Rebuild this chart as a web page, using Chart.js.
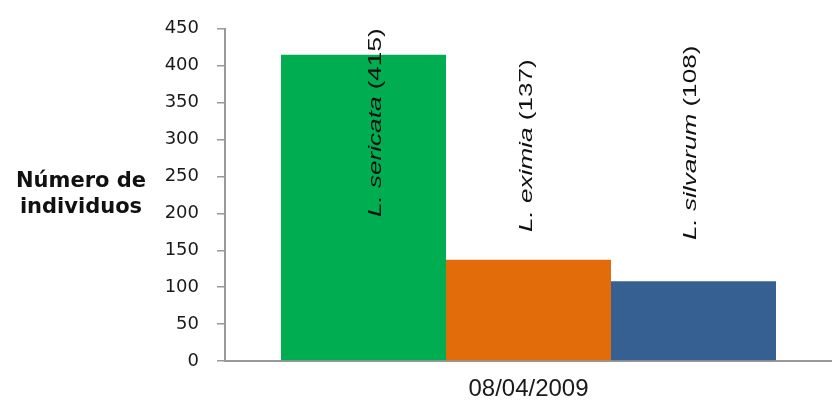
<!DOCTYPE html>
<html>
<head>
<meta charset="utf-8">
<script src="https://cdn.jsdelivr.net/npm/chart.js@4/dist/chart.umd.min.js"></script>
<style>
  html, body { margin: 0; padding: 0; background: #fff; }
  #wrap { width: 832px; height: 401px; }
</style>
</head>
<body>
<div id="wrap"><canvas id="bar-chart"></canvas></div>
<script>
const categories = ["08/04/2009"];
const species = ["sericata", "eximia", "silvarum"];
const counts = [415, 137, 108];
const barColors = ["#00AD50", "#E36C0A", "#366092"];
const yMax = 450;
const yStep = 50;
const yTitle = ["Número de", "individuos"];

// label placement next to each bar (pixels)
const labelShiftX = [18, 3, 2];
const labelBottomY = [217, 232, 240];

const datasets = species.map((name, i) => {
  return {
    label: "L. " + name,
    data: [counts[i]],
    backgroundColor: barColors[i],
    borderWidth: 0
  };
});

const yTitlePlugin = {
  id: "yTitle",
  afterDraw(chart) {
    const ctx = chart.ctx;
    ctx.save();
    ctx.font = "bold 21px 'DejaVu Sans'";
    ctx.fillStyle = "#111";
    ctx.textAlign = "center";
    ctx.textBaseline = "middle";
    ctx.fillText(yTitle[0], 81, 182);
    ctx.fillText(yTitle[1], 81, 208);
    ctx.restore();
  }
};

const barLabelPlugin = {
  id: "barLabels",
  afterDatasetsDraw(chart) {
    const ctx = chart.ctx;
    chart.data.datasets.forEach((ds, i) => {
      const bar = chart.getDatasetMeta(i).data[0];
      ctx.save();
      ctx.translate(bar.x + labelShiftX[i], labelBottomY[i]);
      ctx.rotate(-Math.PI / 2);
      ctx.scale(1.45, 1);
      ctx.fillStyle = "#111";
      ctx.textAlign = "left";
      ctx.textBaseline = "alphabetic";
      let x = 0;
      ctx.font = "italic 18px 'Liberation Sans'";
      const italicPart = "L. " + species[i];
      ctx.fillText(italicPart, x, 0);
      x += ctx.measureText(italicPart).width;
      ctx.font = "18px 'Liberation Sans'";
      ctx.fillText(" (" + counts[i] + ")", x, 0);
      ctx.restore();
    });
  }
};

new Chart(document.getElementById("bar-chart"), {
  type: "bar",
  data: {
    labels: categories,
    datasets: datasets
  },
  options: {
    responsive: true,
    maintainAspectRatio: false,
    animation: false,
    devicePixelRatio: 1,
    layout: { padding: { top: 28, left: 0, right: 0, bottom: 0 } },
    plugins: {
      legend: { display: false },
      tooltip: { enabled: false }
    },
    datasets: {
      bar: { categoryPercentage: 0.8155, barPercentage: 1 }
    },
    scales: {
      x: {
        afterFit: scale => { scale.height = 40; },
        grid: { display: false },
        border: { display: true, color: "#999", width: 2 },
        ticks: {
          color: "#1a1a1a",
          padding: 6,
          font: { family: "'Liberation Sans'", size: 24 }
        }
      },
      y: {
        min: 0,
        max: yMax,
        afterFit: scale => { scale.width = 225; },
        grid: {
          drawOnChartArea: false,
          drawTicks: true,
          tickLength: 8,
          color: "#999",
          lineWidth: 1.5
        },
        border: { display: true, color: "#999", width: 2 },
        ticks: {
          stepSize: yStep,
          color: "#1a1a1a",
          padding: 18,
          font: { family: "'DejaVu Sans'", size: 18 }
        }
      }
    }
  },
  plugins: [yTitlePlugin, barLabelPlugin]
});
</script>
</body>
</html>
